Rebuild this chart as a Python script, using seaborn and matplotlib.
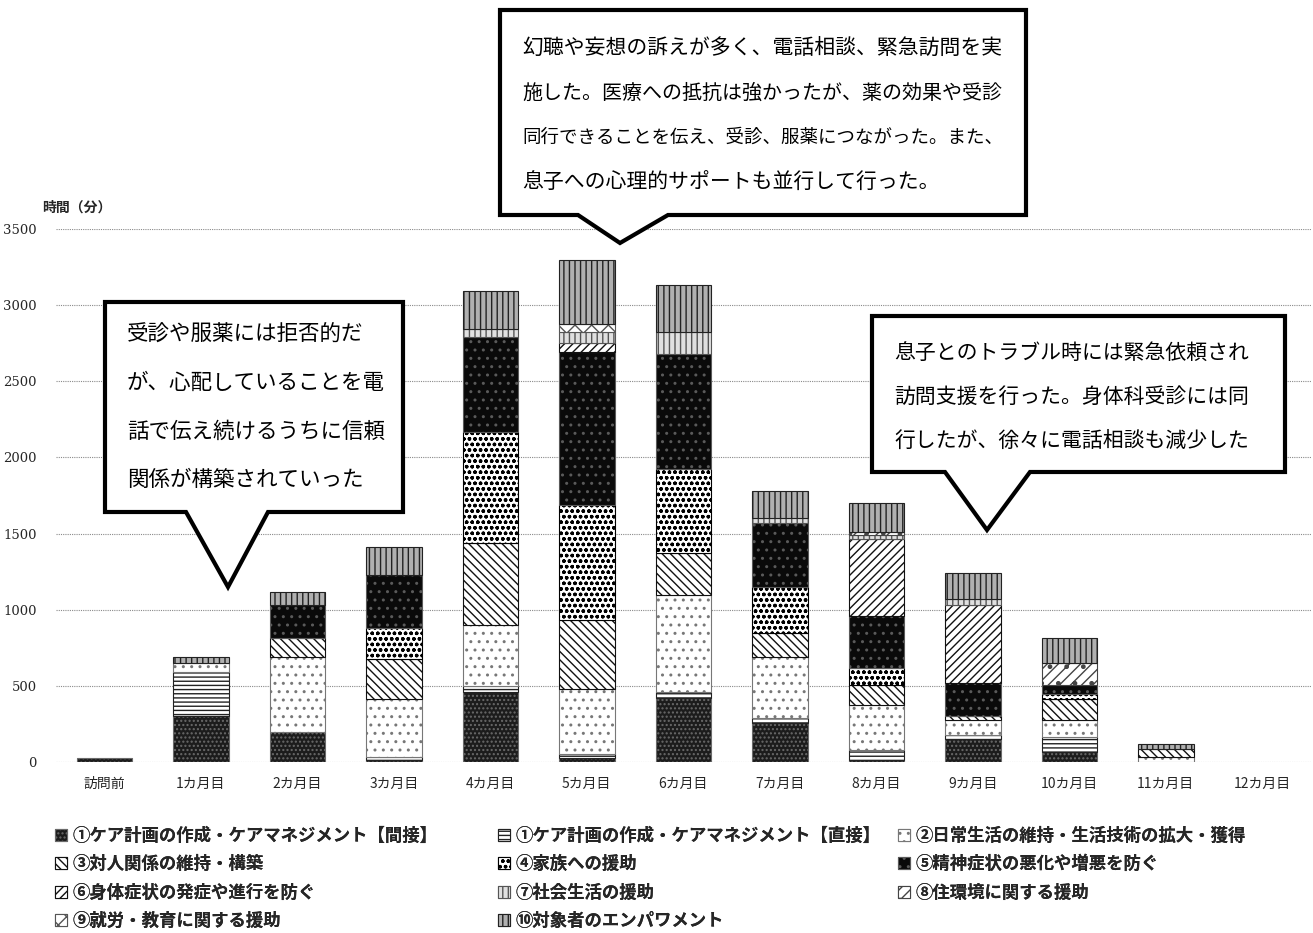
import numpy as np
import matplotlib
matplotlib.use('Agg')
import matplotlib.pyplot as plt
import seaborn as sns
from matplotlib.patches import Patch, Polygon
from matplotlib.font_manager import FontProperties

# データ（グラフから読み取った値、単位：分）
months = ['訪問前', '1カ月目', '2カ月目', '3カ月目', '4カ月目', '5カ月目', '6カ月目',
          '7カ月目', '8カ月目', '9カ月目', '10カ月目', '11カ月目', '12カ月目']

care_kansetsu = [25, 305, 199, 15, 460, 24, 418, 254, 10, 149, 68, 0, 0]
care_chokusetsu = [0, 285, 0, 20, 40, 28, 44, 33, 69, 28, 98, 0, 0]
nichijo = [0, 60, 493, 377, 400, 425, 635, 400, 295, 99, 110, 35, 0]
taijin = [0, 0, 120, 262, 541, 458, 278, 158, 131, 26, 136, 50, 0]
kazoku = [0, 0, 0, 208, 727, 753, 547, 306, 110, 0, 35, 0, 0]
seishin = [0, 0, 218, 346, 623, 1006, 757, 421, 346, 215, 59, 0, 0]
shintai = [0, 0, 0, 0, 0, 56, 0, 0, 501, 514, 0, 0, 0]
shakai = [0, 0, 0, 0, 51, 76, 143, 28, 30, 37, 0, 0, 0]
jukankyo = [0, 0, 0, 0, 0, 0, 0, 0, 20, 0, 142, 0, 0]
shuro = [0, 0, 0, 0, 0, 50, 0, 0, 0, 0, 0, 0, 0]
empower = [0, 40, 88, 186, 252, 421, 310, 180, 187, 171, 164, 31, 0]

labels = ['①ケア計画の作成・ケアマネジメント【間接】',
          '①ケア計画の作成・ケアマネジメント【直接】',
          '②日常生活の維持・生活技術の拡大・獲得',
          '③対人関係の維持・構築',
          '④家族への援助',
          '⑤精神症状の悪化や増悪を防ぐ',
          '⑥身体症状の発症や進行を防ぐ',
          '⑦社会生活の援助',
          '⑧住環境に関する援助',
          '⑨就労・教育に関する援助',
          '⑩対象者のエンパワメント']
series = [care_kansetsu, care_chokusetsu, nichijo, taijin, kazoku, seishin,
          shintai, shakai, jukankyo, shuro, empower]

# 白黒の模様（塗り, 模様の色, ハッチ）
styles = [('#1c1c1c', '#6a6a6a', '....'),
          ('white', '#222222', '----'),
          ('white', '#777777', '..'),
          ('white', '#111111', '\\\\\\\\'),
          ('white', '#000000', 'ooo'),
          ('#0a0a0a', '#5a5a5a', '..'),
          ('white', '#111111', '////'),
          ('#e0e0e0', '#555555', '|||'),
          ('white', '#444444', '///.'),
          ('white', '#555555', 'xx'),
          ('#b0b0b0', '#222222', '|||')]

sns.set_style('white')
plt.rcParams['font.family'] = ['Noto Sans CJK JP', 'DejaVu Sans']
plt.rcParams['hatch.linewidth'] = 1.0

fig = plt.figure(figsize=(13.13, 9.33), dpi=100)
ax = fig.add_axes([0.0427, 0.1833, 0.9554, 0.5713])

bottom = np.zeros(len(months))
for vals, (fc, ec, h) in zip(series, styles):
    edges = [ec if v > 0 else 'none' for v in vals]
    sns.barplot(x=months, y=vals, order=months, ax=ax, width=0.575, color=fc,
                saturation=1, bottom=bottom, facecolor=fc, edgecolor=edges, hatch=h,
                linewidth=0.8, errorbar=None)
    bottom = bottom + np.array(vals)

ax.set_ylim(0, 3500)
ax.set_xlim(-0.5, len(months) - 0.5)
ax.set_yticks(range(0, 3501, 500))
ax.yaxis.grid(True, linestyle=(0, (1, 1)), color='#8a8a8a', linewidth=0.8)
ax.set_axisbelow(True)
for s in ax.spines.values():
    s.set_visible(False)
ax.set_xlabel('')
ax.set_ylabel('')
ax.tick_params(axis='both', length=0)
ax.tick_params(axis='x', pad=11, labelsize=10)
ax.tick_params(axis='y', pad=14)
for t in ax.get_yticklabels():
    t.set_fontfamily('DejaVu Serif')
    t.set_fontsize(9.5)

fig.text(42 / 1313, 1 - 208 / 933, '時間（分）', fontsize=10, fontweight='bold', va='center')

# 吹き出し
ov = fig.add_axes([0, 0, 1, 1], zorder=5)
ov.set_xlim(0, 1313)
ov.set_ylim(933, 0)
ov.axis('off')
ov.patch.set_alpha(0)


def bubble(x0, y0, x1, y1, ta, tb, tip, lines, ys, sizes):
    pts = [(x0, y0), (x1, y0), (x1, y1), (tb, y1), tip, (ta, y1), (x0, y1)]
    ov.add_patch(Polygon(pts, closed=True, facecolor='white', edgecolor='black',
                         linewidth=3.0, joinstyle='miter'))
    for line, yy, sz in zip(lines, ys, sizes):
        ov.text(x0 + 22, yy, line, fontsize=sz, va='center', ha='left', color='black')


bubble(105, 302, 403, 512, 186, 268, (228, 587),
       ['受診や服薬には拒否的だ', 'が、心配していることを電',
        '話で伝え続けるうちに信頼', '関係が構築されていった'],
       [334, 383, 432, 480], [15.5] * 4)
bubble(500, 10, 1026, 215, 578, 668, (620, 243),
       ['幻聴や妄想の訴えが多く、電話相談、緊急訪問を実',
        '施した。医療への抵抗は強かったが、薬の効果や受診',
        '同行できることを伝え、受診、服薬につながった。また、',
        '息子への心理的サポートも並行して行った。'],
       [48, 93, 138, 183], [15, 14.4, 13.3, 15])
bubble(872, 316, 1285, 472, 945, 1030, (987, 530),
       ['息子とのトラブル時には緊急依頼され', '訪問支援を行った。身体科受診には同',
        '行したが、徐々に電話相談も減少した'],
       [353, 397, 441], [15] * 3)

# 凡例（3列を個別に配置）
handles = [Patch(facecolor=fc, edgecolor=ec, hatch=h, linewidth=0.8) for fc, ec, h in styles]
leg_font = FontProperties(family=['Noto Sans CJK JP', 'DejaVu Sans'], weight='bold', size=12.5)
columns = [([0, 3, 6, 9], 55), ([1, 4, 7, 10], 498), ([2, 5, 8], 898)]
for idx, x in columns:
    leg = fig.legend([handles[i] for i in idx], [labels[i] for i in idx],
                     loc='upper left', bbox_to_anchor=(x / 1313, 1 - 827 / 933),
                     frameon=False, prop=leg_font, handlelength=0.7, handleheight=0.7,
                     handletextpad=0.3, labelspacing=0.6, borderaxespad=0, borderpad=0)
    fig.add_artist(leg)

fig.savefig('out.png', dpi=100)
